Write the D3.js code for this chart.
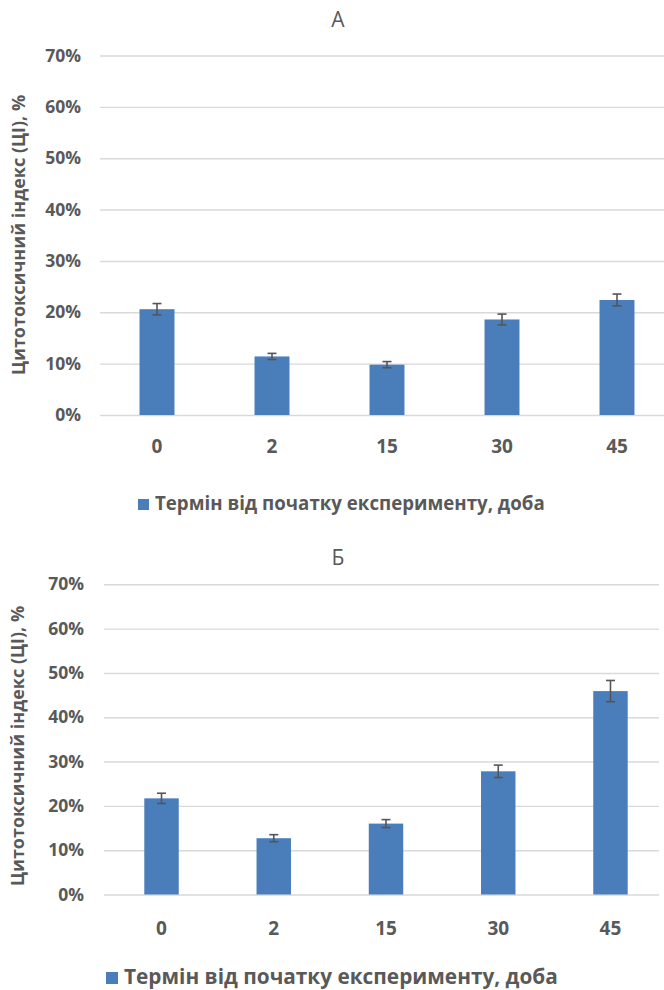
<!DOCTYPE html>
<html>
<head>
<meta charset="utf-8">
<script src="https://cdn.jsdelivr.net/npm/d3@7"></script>
<style>
  html, body { margin: 0; padding: 0; background: #fff; }
  svg { display: block; }
  text { font-family: "Open Sans", "DejaVu Sans", sans-serif; }
</style>
</head>
<body>
<svg id="chart" width="664" height="990"></svg>
<script>
// Days since start of the experiment
const days = ["0", "2", "15", "30", "45"];
// Panel А: cytotoxic index (%) and error
const meanA = [20.6, 11.4, 9.8, 18.6, 22.4];
const errA = [1.1, 0.6, 0.6, 1.05, 1.15];
// Panel Б: cytotoxic index (%) and error
const meanB = [21.7, 12.7, 16.0, 27.8, 45.9];
const errB = [1.15, 0.8, 0.9, 1.4, 2.4];
// Value axis ticks (%)
const yTicks = [0, 10, 20, 30, 40, 50, 60, 70];

const yTitle = "Цитотоксичний індекс (ЦІ), %";
const legendText = "Термін від початку експерименту, доба";

const BAR = "#4a7ebb";
const GRID = "#d9d9d9";
const TXT = "#595959";

const svg = d3.select("#chart");

function panel(cfg) {
  const g = svg.append("g");
  const x = d3.scaleBand().domain(days).range(cfg.xRange)
    .paddingInner(cfg.pad).paddingOuter(cfg.pad / 2);
  const y = d3.scaleLinear().domain([0, 70]).range(cfg.yRange);

  // panel letter
  g.append("text").attr("x", 338).attr("y", cfg.titleY)
    .attr("text-anchor", "middle").attr("font-size", 21)
    .attr("fill", TXT).text(cfg.title);

  // value axis with gridlines
  const ya = g.append("g").attr("transform", `translate(${cfg.gridX0},0)`)
    .call(d3.axisLeft(y).tickValues(yTicks).tickFormat(d => d + "%")
      .tickSize(-(cfg.gridX1 - cfg.gridX0)).tickPadding(cfg.gridX0 - cfg.labelX));
  ya.select(".domain").remove();
  ya.selectAll("line").attr("stroke", GRID).attr("stroke-width", 1.4);
  ya.selectAll("text").attr("font-size", cfg.tickFs).attr("font-weight", 700)
    .attr("fill", TXT).attr("font-family", "'Open Sans', sans-serif");

  // axis title
  g.append("text")
    .attr("transform", `translate(${cfg.yTitleX},${cfg.yTitleY}) rotate(-90)`)
    .attr("text-anchor", "middle").attr("font-size", cfg.yTitleFs)
    .attr("font-weight", 700).attr("fill", TXT).text(yTitle);

  // bars
  g.selectAll("rect.bar").data(cfg.mean).join("rect").attr("class", "bar")
    .attr("x", (d, i) => x(days[i])).attr("width", x.bandwidth())
    .attr("y", d => y(d)).attr("height", d => y(0) - y(d))
    .attr("fill", BAR);

  // error bars
  const eb = g.selectAll("g.err").data(cfg.mean).join("g").attr("class", "err")
    .attr("stroke", "#555").attr("stroke-width", 1.6);
  eb.append("line")
    .attr("x1", (d, i) => x(days[i]) + x.bandwidth() / 2)
    .attr("x2", (d, i) => x(days[i]) + x.bandwidth() / 2)
    .attr("y1", (d, i) => y(d + cfg.err[i])).attr("y2", (d, i) => y(d - cfg.err[i]));
  [1, -1].forEach(s => {
    eb.append("line")
      .attr("x1", (d, i) => x(days[i]) + x.bandwidth() / 2 - 4.5)
      .attr("x2", (d, i) => x(days[i]) + x.bandwidth() / 2 + 4.5)
      .attr("y1", (d, i) => y(d + s * cfg.err[i])).attr("y2", (d, i) => y(d + s * cfg.err[i]));
  });

  // category axis
  const xa = g.append("g").attr("transform", `translate(0,${cfg.yRange[0]})`)
    .call(d3.axisBottom(x).tickSize(0).tickPadding(cfg.catPad));
  xa.select(".domain").remove();
  xa.selectAll("text").attr("font-size", cfg.catFs).attr("font-weight", 700)
    .attr("fill", TXT).attr("font-family", "'Open Sans', sans-serif");

  // legend
  g.append("rect").attr("x", cfg.legX).attr("y", cfg.legY - cfg.legSq + 1)
    .attr("width", cfg.legSq).attr("height", cfg.legSq).attr("fill", BAR);
  g.append("text").attr("x", cfg.legX + cfg.legSq + 6).attr("y", cfg.legY + 1)
    .attr("font-size", cfg.legFs).attr("font-weight", 700).attr("fill", TXT)
    .text(legendText);
}

panel({
  title: "А", titleY: 27,
  xRange: [99.5, 674.5], pad: 0.696,
  yRange: [415, 55.5],
  gridX0: 100, gridX1: 664, labelX: 81,
  tickFs: 17.5, catFs: 19, catPad: 25,
  yTitleX: 25, yTitleY: 235, yTitleFs: 18,
  mean: meanA, err: errA,
  legX: 138, legY: 509, legSq: 11, legFs: 18.7
});

panel({
  title: "Б", titleY: 565,
  xRange: [105.4, 666.6], pad: 0.693,
  yRange: [894.5, 584.3],
  gridX0: 104, gridX1: 659, labelX: 84,
  tickFs: 17.5, catFs: 19, catPad: 27,
  yTitleX: 24, yTitleY: 746, yTitleFs: 18,
  mean: meanB, err: errB,
  legX: 106, legY: 983, legSq: 12, legFs: 20.8
});
</script>
</body>
</html>
